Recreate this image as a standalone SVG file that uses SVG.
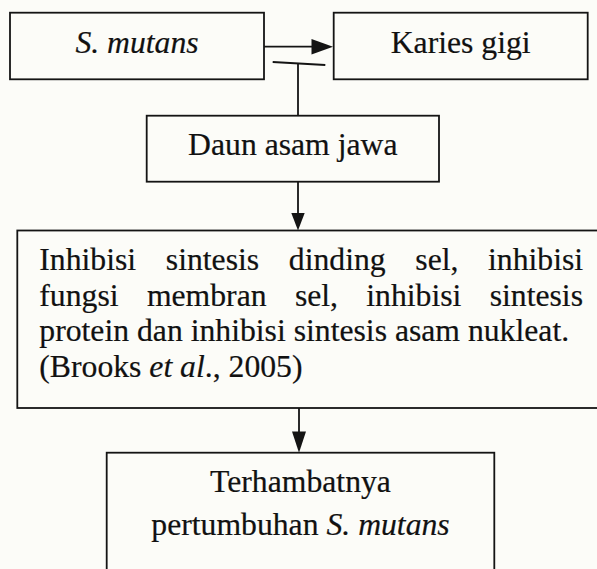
<svg xmlns="http://www.w3.org/2000/svg" width="597" height="569" viewBox="0 0 597 569">
  <style>
    .box { fill: none; stroke: #141414; stroke-width: 1.8; }
    .t { font-family: "Liberation Serif", "Times New Roman", serif; font-size: 31.7px; fill: #111; stroke: #111; stroke-width: 0.2; }
    .c { text-anchor: middle; }
    .i { font-style: italic; }
    .ln { stroke: #141414; stroke-width: 1.8; fill: none; }
    .ah { fill: #141414; stroke: none; }
  </style>
  <rect x="0" y="0" width="597" height="569" fill="#fcfcf8"/>

  <g id="connectors">
    <line class="ln" x1="264" y1="46.7" x2="313" y2="46.7"/>
    <polygon class="ah" points="311.5,39 333,46.7 311.5,54.4"/>
    <line class="ln" x1="272.7" y1="62" x2="325.3" y2="65"/>
    <line class="ln" x1="298" y1="63.5" x2="298" y2="115.7"/>
    <line class="ln" x1="298" y1="181.7" x2="298" y2="214"/>
    <polygon class="ah" points="291.3,213 304.7,213 298,230.5"/>
    <line class="ln" x1="299" y1="408" x2="299" y2="433"/>
    <polygon class="ah" points="292,431.5 306,431.5 299,452.7"/>
  </g>

  <g id="node-smutans">
    <rect class="box" x="10" y="12.7" width="254" height="66.6"/>
    <text class="t c i" x="137" y="53.3">S. mutans</text>
  </g>

  <g id="node-karies">
    <rect class="box" x="333.7" y="12.7" width="254" height="66.6"/>
    <text class="t c" x="460.7" y="53.3">Karies gigi</text>
  </g>

  <g id="node-daun">
    <rect class="box" x="146.7" y="115.7" width="292.3" height="66"/>
    <text class="t c" x="292.8" y="155">Daun asam jawa</text>
  </g>

  <g id="node-inhibisi">
    <rect class="box" x="17.3" y="230.5" width="600" height="177.5"/>
    <text class="t" y="270"><tspan x="39.3">Inhibisi</tspan><tspan x="165.8">sintesis</tspan><tspan x="288.8">dinding</tspan><tspan x="415.3">sel,</tspan><tspan x="488">inhibisi</tspan></text>
    <text class="t" y="305.6"><tspan x="39.3">fungsi</tspan><tspan x="146.9">membran</tspan><tspan x="294.9">sel,</tspan><tspan x="366.3">inhibisi</tspan><tspan x="489.7">sintesis</tspan></text>
    <text class="t" x="39.3" y="341.2">protein dan inhibisi sintesis asam nukleat.</text>
    <text class="t" x="39.3" y="376.8">(Brooks <tspan class="i">et al</tspan>., 2005)</text>
  </g>

  <g id="node-terhambat">
    <rect class="box" x="106.7" y="452.7" width="387.6" height="140"/>
    <text class="t c" x="300.5" y="492.3">Terhambatnya</text>
    <text class="t c" x="300.5" y="535">pertumbuhan <tspan class="i">S. mutans</tspan></text>
  </g>
</svg>
